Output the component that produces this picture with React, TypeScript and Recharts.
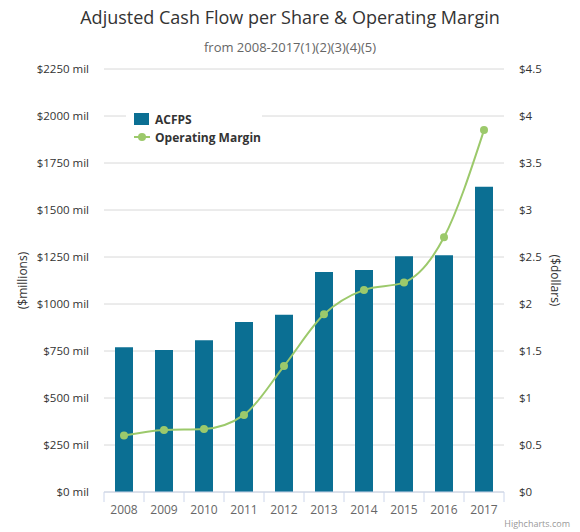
import React from "react";
import {
  ComposedChart,
  Bar,
  Line,
  XAxis,
  YAxis,
  CartesianGrid,
  Legend,
  Label,
} from "recharts";

const years = ["2008", "2009", "2010", "2011", "2012", "2013", "2014", "2015", "2016", "2017"];
const acfps = [770, 755, 807, 904, 943, 1170, 1181, 1254, 1259, 1624];
const operatingMargin = [0.6, 0.66, 0.67, 0.82, 1.34, 1.89, 2.15, 2.23, 2.71, 3.85];
const leftTicks = [0, 250, 500, 750, 1000, 1250, 1500, 1750, 2000, 2250];
const rightTicks = [0, 0.5, 1, 1.5, 2, 2.5, 3, 3.5, 4, 4.5];

const data = years.map((year, i) => ({
  year,
  acfps: acfps[i],
  margin: operatingMargin[i],
}));

const FONT = "'Open Sans', sans-serif";
const BAR_COLOR = "#0b6f93";
const LINE_COLOR = "#9cc96b";

// Highcharts puts the x tick marks between categories, not under them
const XTick = (props: any) => {
  const { x, y, payload, index } = props;
  const half = payload?.offset || 20;
  const last = index === years.length - 1;
  return (
    <g>
      <line x1={x - half} x2={x - half} y1={y} y2={y + 10} stroke="#ccd6eb" />
      {last && <line x1={x + half} x2={x + half} y1={y} y2={y + 10} stroke="#ccd6eb" />}
      <text x={x} y={y + 22} textAnchor="middle" fill="#666" fontSize={12} fontFamily={FONT}>
        {payload.value}
      </text>
    </g>
  );
};

const renderLegend = () => (
  <div style={{ background: "#fff", padding: "4px 0 4px 8px", fontFamily: FONT }}>
    <div style={{ display: "flex", alignItems: "center", height: 18 }}>
      <span style={{ width: 15, height: 12, background: BAR_COLOR, display: "inline-block", marginRight: 6 }} />
      <span style={{ fontSize: 12, fontWeight: 700, color: "#333" }}>ACFPS</span>
    </div>
    <div style={{ display: "flex", alignItems: "center", height: 18 }}>
      <svg width={16} height={10} style={{ marginRight: 5 }}>
        <line x1={0} x2={16} y1={5} y2={5} stroke={LINE_COLOR} strokeWidth={2} />
        <circle cx={8} cy={5} r={4} fill={LINE_COLOR} />
      </svg>
      <span style={{ fontSize: 12, fontWeight: 700, color: "#333" }}>Operating Margin</span>
    </div>
  </div>
);

export default function App() {
  return (
    <div style={{ position: "relative", width: 580, height: 532, background: "#fff" }}>
      <style>{`body { margin: 0; }`}</style>
      <div
        style={{
          position: "absolute",
          top: 5,
          width: 580,
          textAlign: "center",
          fontFamily: FONT,
          fontSize: 18,
          color: "#333",
        }}
      >
        Adjusted Cash Flow per Share &amp; Operating Margin
      </div>
      <div
        style={{
          position: "absolute",
          top: 38,
          width: 580,
          textAlign: "center",
          fontFamily: FONT,
          fontSize: 13,
          color: "#666",
        }}
      >
        from 2008-2017(1)(2)(3)(4)(5)
      </div>

      <ComposedChart width={580} height={532} data={data} margin={{ top: 69, right: 0, bottom: 0, left: 0 }}>
        <CartesianGrid vertical={false} stroke="#d8d8d8" yAxisId="left" />
        <XAxis
          dataKey="year"
          height={40}
          tickSize={0}
          tickMargin={0}
          tickLine={false}
          stroke="#ccd6eb"
          tick={<XTick />}
          interval={0}
        />
        <YAxis
          yAxisId="left"
          width={104}
          domain={[0, 2250]}
          ticks={leftTicks}
          tickFormatter={(v: number) => `$${v} mil`}
          axisLine={false}
          tickLine={false}
          tickSize={0}
          tickMargin={15}
          tick={{ fill: "#333", fontSize: 11.5, fontFamily: FONT }}
        >
          <Label
            content={(p: any) => {
              const cy = p.viewBox.y + p.viewBox.height / 2;
              return (
                <text
                  x={22}
                  y={cy}
                  transform={`rotate(-90 22 ${cy})`}
                  textAnchor="middle"
                  dominantBaseline="central"
                  fill="#333"
                  fontSize={12}
                  fontFamily={FONT}
                >
                  ($millions)
                </text>
              );
            }}
          />
        </YAxis>
        <YAxis
          yAxisId="right"
          orientation="right"
          width={76}
          domain={[0, 4.5]}
          ticks={rightTicks}
          tickFormatter={(v: number) => `$${v}`}
          axisLine={false}
          tickLine={false}
          tickSize={0}
          tickMargin={15}
          tick={{ fill: "#333", fontSize: 11.5, fontFamily: FONT }}
        >
          <Label
            content={(p: any) => {
              const cx = p.viewBox.x + 51;
              const cy = p.viewBox.y + p.viewBox.height / 2;
              return (
                <text
                  x={cx}
                  y={cy}
                  transform={`rotate(90 ${cx} ${cy})`}
                  textAnchor="middle"
                  dominantBaseline="central"
                  fill="#333"
                  fontSize={12}
                  fontFamily={FONT}
                >
                  ($dollars)
                </text>
              );
            }}
          />
        </YAxis>
        <Legend
          layout="vertical"
          align="center"
          verticalAlign="middle"
          content={renderLegend}
          wrapperStyle={{ left: 126, top: 106, width: 136 }}
        />
        <Bar yAxisId="left" dataKey="acfps" name="ACFPS" fill={BAR_COLOR} barSize={18} isAnimationActive={false} />
        <Line
          yAxisId="right"
          type="monotone"
          dataKey="margin"
          name="Operating Margin"
          stroke={LINE_COLOR}
          strokeWidth={2}
          dot={{ r: 4, fill: LINE_COLOR, stroke: LINE_COLOR, strokeWidth: 0 }}
          isAnimationActive={false}
        />
      </ComposedChart>

      <div
        style={{
          position: "absolute",
          right: 10,
          bottom: 2,
          fontFamily: FONT,
          fontSize: 9,
          color: "#999",
        }}
      >
        Highcharts.com
      </div>
    </div>
  );
}
